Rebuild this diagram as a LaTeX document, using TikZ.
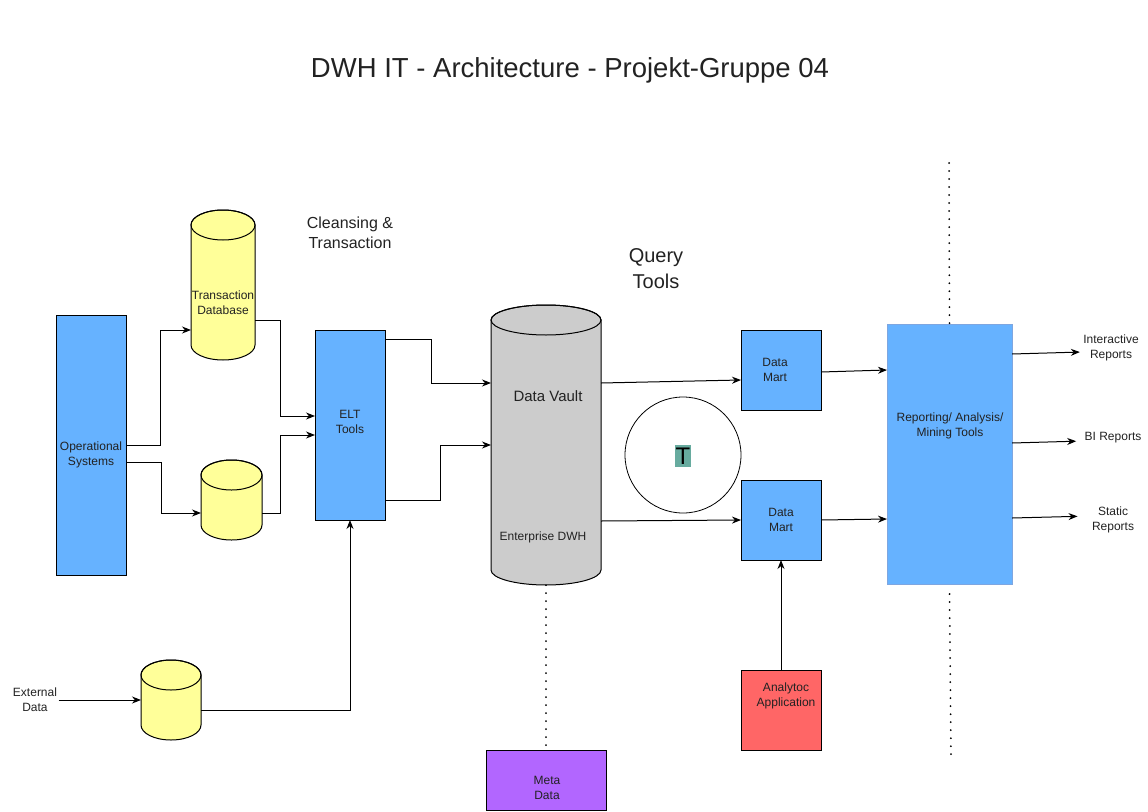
\documentclass[tikz,border=0pt]{standalone}
\usepackage{fontspec}
\setmainfont{Liberation Sans}
\usetikzlibrary{arrows.meta,calc}
\definecolor{boxblue}{HTML}{66B2FF}
\definecolor{dbyellow}{HTML}{FFFF99}
\definecolor{vaultgray}{HTML}{CCCCCC}
\definecolor{metapurple}{HTML}{B266FF}
\definecolor{appred}{HTML}{FF6666}
\definecolor{tteal}{HTML}{67AB9F}
\definecolor{repborder}{HTML}{7EA6E0}
\definecolor{txtc}{HTML}{222222}
% #1 name, #2 cx, #3 cy, #4 width, #5 height, #6 fill, #7 x radius
\newcommand\dbcyl[7]{%
  \node[minimum width=#4pt, minimum height=#5pt, inner sep=0pt, outer sep=0pt] (#1) at (#2,#3) {};
  \path[fill=#6, draw=black] ([yshift=-15pt]#1.north west) -- ([yshift=15pt]#1.south west)
     arc[start angle=180, end angle=360, x radius=#7pt, y radius=15pt]
     -- ([yshift=-15pt]#1.north east)
     arc[start angle=0, end angle=180, x radius=#7pt, y radius=15pt] -- cycle;
  \draw ([yshift=-15pt]#1.north) ellipse[x radius=#7pt, y radius=15pt];
}
\begin{document}
\begin{tikzpicture}[x=1pt,y=-1pt,line width=1pt,
  box/.style={draw=black, inner sep=0pt, outer sep=0pt},
  txt/.style={font=\fontsize{12}{15}\selectfont, align=center, inner sep=1pt, text=txtc},
  arr/.style={-{Stealth[length=9pt,width=7pt]}},
  dots/.style={line width=2pt, dash pattern=on 0.01pt off 8pt, line cap=round}]
\useasboundingbox (0,0) rectangle (1148,811);

% title and free labels
\node[font=\fontsize{27.5}{32}\selectfont, text=txtc] (title) at (570,70) {DWH IT - Architecture - Projekt-Gruppe 04};
\node[font=\fontsize{16}{20}\selectfont, align=center, text=txtc] (clean) at (350,233) {Cleansing \&\\Transaction};
\node[font=\fontsize{20}{26}\selectfont, align=center, text=txtc] (query) at (656,269) {Query\\Tools};

% boxes
\node[box, fill=boxblue, minimum width=70pt, minimum height=260pt] (os) at (91,445) {};
\node[txt] (osl) at (91,455) {Operational\\Systems};

\node[box, fill=boxblue, minimum width=70pt, minimum height=190pt] (elt) at (350,425) {};
\node[txt] (eltl) at (350,422) {ELT\\Tools};

\node[box, fill=boxblue, minimum width=80pt, minimum height=80pt] (dm1) at (781,370) {};
\node[txt] (dm1l) at (775,370) {Data\\Mart};
\node[box, fill=boxblue, minimum width=80pt, minimum height=80pt] (dm2) at (781,520) {};
\node[txt] (dm2l) at (781,520) {Data\\Mart};

\node[box, fill=appred, minimum width=80pt, minimum height=80pt] (ana) at (781,710) {};
\node[txt] (anal) at (786,696) {Analytoc\\Application};

\node[box, fill=metapurple, minimum width=120pt, minimum height=60pt] (meta) at (546,780) {};
\node[txt] (metal) at (547,788) {Meta\\ Data};

\node[box, draw=repborder, fill=boxblue, minimum width=125pt, minimum height=260pt] (rep) at (949.5,454) {};
\node[txt] (repl) at (950,426) {Reporting/ Analysis/\\Mining Tools};

% cylinders
\dbcyl{tdb}{223}{285}{64}{150}{dbyellow}{32}
\node[txt] (tdbl) at (223,303) {Transaction\\Database};
\dbcyl{cyl2}{231.5}{500}{61}{80}{dbyellow}{30.5}
\dbcyl{extc}{171}{700}{60}{80}{dbyellow}{30}
\dbcyl{dv}{546}{445}{110}{280}{vaultgray}{55}
\node[font=\fontsize{15}{18}\selectfont, text=txtc] (dvl) at (548,396) {Data Vault};
\node[txt] (dvl2) at (543,537) {Enterprise DWH};

% circle
\node[draw=black, circle, line width=0.8pt, minimum size=116pt, inner sep=0pt] (tc) at (683,455) {};
\node[fill=tteal, font=\fontsize{24}{26}\selectfont, inner xsep=1pt, inner ysep=3pt, text=black] (tt) at (683,456) {T};

% outside labels
\node[txt] (ext) at (35,700) {External\\Data};
\node[txt] (ir) at (1111,348) {Interactive\\Reports};
\node[txt] (bi) at (1113,438) {BI Reports};
\node[txt] (sr) at (1113,520) {Static\\Reports};

% connectors
\draw[arr] (os.east |- 0,445) -- (160,445) |- (tdb.west |- 0,330);
\draw[arr] (os.east |- 0,462) -- (161,462) |- (cyl2.west |- 0,513);
\draw[arr] (tdb.east |- 0,320) -- (280,320) |- (elt.west |- 0,416);
\draw[arr] (cyl2.east |- 0,513) -- (280,513) |- (elt.west |- 0,435);
\draw[arr] (elt.east |- 0,339) -- (431,339) |- (dv.west |- 0,383);
\draw[arr] (elt.east |- 0,500) -- (440,500) |- (dv.west |- 0,445);
\draw[arr] (ext.east |- 0,700) -- (extc.west |- 0,700);
\draw[arr] (extc.east |- 0,710) -| (elt.south);
\draw[arr] (dv.east |- 0,383) -- (dm1.west |- 0,380);
\draw[arr] (dv.east |- 0,521) -- (dm2.west |- 0,520);
\draw[arr] (ana.north) -- (dm2.south);
\draw[arr] (dm1.east |- 0,372) -- (rep.west |- 0,370);
\draw[arr] (dm2.east |- 0,520) -- (rep.west |- 0,519);
\draw[arr, shorten >=2pt] (rep.east |- 0,354) -- (ir.west |- 0,352);
\draw[arr, shorten >=7pt] (rep.east |- 0,443) -- (bi.west |- 0,441);
\draw[arr, shorten >=13pt] (rep.east |- 0,518) -- (sr.west |- 0,516);

% dotted lines
\coordinate (dtop) at (949,163);
\coordinate (dbot) at (951,755);
\draw[dots] (dv.south) -- (meta.north);
\draw[dots] (dtop) -- (rep.north);
\draw[dots] ([yshift=-10pt]rep.south) -- (dbot);
\end{tikzpicture}
\end{document}
